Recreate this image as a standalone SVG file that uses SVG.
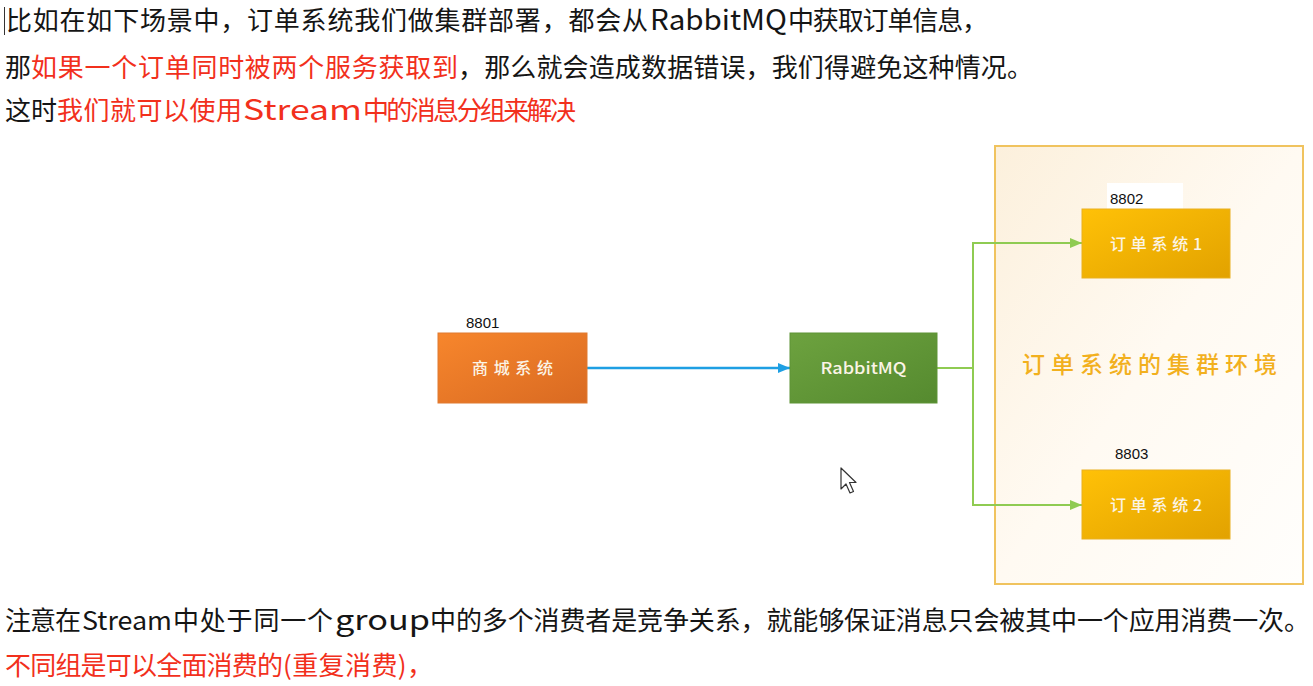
<svg xmlns="http://www.w3.org/2000/svg" width="1313" height="686" viewBox="0 0 1313 686">
<style>
.t{font-family:"Noto Sans CJK SC","Noto Sans",sans-serif;font-size:26px;fill:#151515}
.l{font-size:28px}
.r{fill:#f2301c}
.lbl{font-family:"Liberation Sans","DejaVu Sans",sans-serif;font-size:15px;fill:#111}
.bx{font-family:"Noto Sans CJK SC","Noto Sans",sans-serif;font-size:16px;font-weight:500;fill:#fbf4e6;text-anchor:middle}
.g{fill:none;stroke:#8fcb52;stroke-width:2}
</style>
<defs>
<linearGradient id="gOr" x1="0" y1="0" x2="1" y2="1"><stop offset="0" stop-color="#f7862c"/><stop offset="1" stop-color="#d96a22"/></linearGradient>
<linearGradient id="gGr" x1="0" y1="0" x2="1" y2="1"><stop offset="0" stop-color="#6da23f"/><stop offset="1" stop-color="#558a2f"/></linearGradient>
<linearGradient id="gYe" x1="0" y1="0" x2="1" y2="1"><stop offset="0" stop-color="#ffc107"/><stop offset="1" stop-color="#e2a200"/></linearGradient>
<linearGradient id="gBg" x1="0" y1="0" x2="1" y2="1"><stop offset="0" stop-color="#fcf0dc"/><stop offset="0.5" stop-color="#fffaf2"/><stop offset="1" stop-color="#fffefc"/></linearGradient>
<marker id="aB" markerWidth="12" markerHeight="10" refX="12" refY="5" orient="auto" markerUnits="userSpaceOnUse"><path d="M0,0 L12,5 L0,10 z" fill="#1e9fe3"/></marker>
<marker id="aG" markerWidth="12" markerHeight="10" refX="12" refY="5" orient="auto" markerUnits="userSpaceOnUse"><path d="M0,0 L12,5 L0,10 z" fill="#8fcb52"/></marker>
</defs>
<rect width="1313" height="686" fill="#ffffff"/>

<g id="texts-top">
<line x1="4.5" y1="7" x2="4.5" y2="35" stroke="#333" stroke-width="1"/>
<text class="t" x="6" y="30" textLength="642">比如在如下场景中，订单系统我们做集群部署，都会从</text>
<text class="t l" x="650" y="30" textLength="137" lengthAdjust="spacingAndGlyphs">RabbitMQ</text>
<text class="t" x="788" y="30" textLength="200">中获取订单信息，</text>
<text class="t" x="5" y="77">那</text>
<text class="t r" x="31" y="77" textLength="427">如果一个订单同时被两个服务获取到</text>
<text class="t" x="458" y="77" textLength="575">，那么就会造成数据错误，我们得避免这种情况。</text>
<text class="t" x="5" y="120" textLength="52">这时</text>
<text class="t r" x="57" y="120" textLength="185">我们就可以使用</text>
<text class="t r l" x="243" y="120" textLength="119" lengthAdjust="spacingAndGlyphs">Stream</text>
<text class="t r" x="363" y="120" textLength="213">中的消息分组来解决</text>
</g>

<g id="cluster">
<rect x="995" y="146" width="308" height="438" fill="url(#gBg)" stroke="#f0c35e" stroke-width="2"/>
<text x="1022" y="373" textLength="255" style="font-family:'Noto Sans CJK SC','Noto Sans',sans-serif;font-size:23px;font-weight:500;fill:#f2b01e">订单系统的集群环境</text>
</g>

<g id="connectors">
<line x1="587" y1="368" x2="790" y2="368" stroke="#1e9fe3" stroke-width="2.5" marker-end="url(#aB)"/>
<polyline class="g" points="937,368 973,368 973,243 1082,243" marker-end="url(#aG)"/>
<polyline class="g" points="973,368 973,505 1082,505" marker-end="url(#aG)"/>
</g>

<g id="node-mall">
<text class="lbl" x="466" y="328">8801</text>
<rect x="438" y="333" width="149" height="70" fill="url(#gOr)" stroke="#e07a30" stroke-width="1"/>
<text class="bx" x="512.5" y="374" textLength="81">商城系统</text>
</g>

<g id="node-mq">
<rect x="790" y="333" width="147" height="70" fill="url(#gGr)" stroke="#5f9436" stroke-width="1"/>
<text class="bx" x="863.5" y="374" textLength="86" lengthAdjust="spacingAndGlyphs" style="font-size:16px">RabbitMQ</text>
</g>

<g id="node-order1">
<rect x="1107" y="183" width="76" height="26" fill="#ffffff"/>
<text class="lbl" x="1110" y="204">8802</text>
<rect x="1082" y="209" width="148" height="69" fill="url(#gYe)" stroke="#e9b020" stroke-width="1"/>
<text class="bx" x="1156" y="250" textLength="92">订单系统1</text>
</g>

<g id="node-order2">
<text class="lbl" x="1115" y="459">8803</text>
<rect x="1082" y="470" width="148" height="69" fill="url(#gYe)" stroke="#e9b020" stroke-width="1"/>
<text class="bx" x="1156" y="511" textLength="92">订单系统2</text>
</g>

<g id="pointer">
<polygon points="841,468 841,489 846,484 850,493 853.5,491.5 849.5,482.5 856,482.5" fill="#ffffff" stroke="#333" stroke-width="1.2" stroke-linejoin="round"/>
</g>

<g id="texts-bottom">
<text class="t" x="5" y="630" textLength="76">注意在</text>
<text class="t" x="82" y="630" textLength="90" lengthAdjust="spacingAndGlyphs">Stream</text>
<text class="t" x="173" y="630" textLength="160">中处于同一个</text>
<text class="t l" x="335" y="630" textLength="95" lengthAdjust="spacingAndGlyphs">group</text>
<text class="t" x="430" y="630" textLength="880">中的多个消费者是竞争关系，就能够保证消息只会被其中一个应用消费一次。</text>
<text class="t r" x="5" y="675" textLength="278">不同组是可以全面消费的</text>
<text class="t r" x="283" y="675" textLength="150">(重复消费)，</text>
</g>
</svg>
